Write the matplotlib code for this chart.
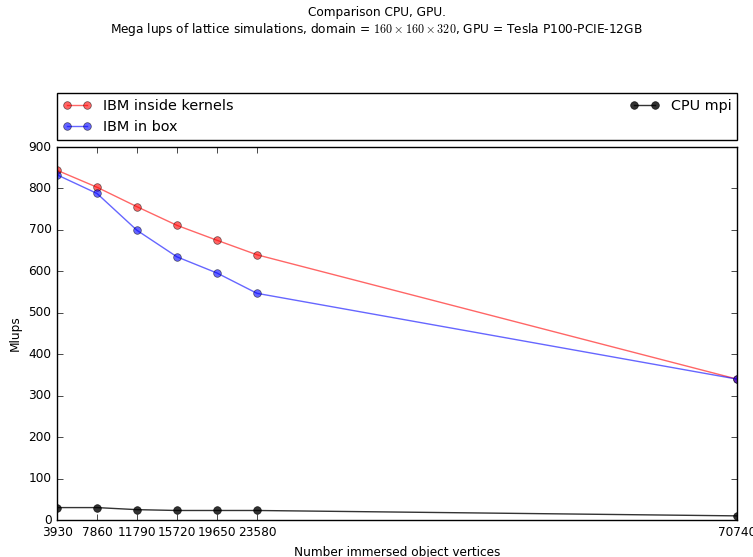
import matplotlib
matplotlib.use("Agg")
import matplotlib.pyplot as plt

plt.style.use("classic")
plt.rcParams["font.size"] = 8.7
plt.rcParams["mathtext.fontset"] = "cm"

# number of immersed vertices
vertices = [3930, 7860, 11790, 15720, 19650, 23580, 70740]
# Mlups per version
ibm_kernels = [844, 803, 756, 711, 675, 640, 340]
ibm_box = [833, 788, 699, 635, 596, 547, 340]
cpu_mpi = [30, 30, 25, 23, 23, 23, 10]

fig = plt.figure(figsize=(7.53, 5.57), dpi=100, facecolor="white")
ax = fig.add_axes([0.0757, 0.0664, 0.9031, 0.6696])

ax.plot(vertices, ibm_kernels, "ro-", alpha=0.6, markersize=5.5, markeredgecolor="k", markeredgewidth=0.5, label="IBM inside kernels")
ax.plot(vertices, ibm_box, "bo-", alpha=0.6, markersize=5.5, markeredgecolor="k", markeredgewidth=0.5, label="IBM in box")
ax.plot(vertices, cpu_mpi, "ko-", alpha=0.8, markersize=5.5, label="CPU mpi")

ax.set_xticks(vertices)
ax.set_xticklabels([str(v) for v in vertices])
ax.set_xlim(vertices[0], vertices[-1])
ax.set_ylim(0, 900)
ax.set_xlabel("Number immersed object vertices")
ax.set_ylabel("Mlups")

ax.legend(bbox_to_anchor=(0., 1.019, 1., .123), loc=3, ncol=2, mode="expand",
          borderaxespad=0., fontsize=10.4, numpoints=2)

fig.text(0.5, 0.978, "Comparison CPU, GPU.", ha="center", va="center", fontsize=8.7)
fig.text(0.5, 0.947, r"Mega lups of lattice simulations, domain = $160 \times 160 \times 320$, GPU = Tesla P100-PCIE-12GB",
         ha="center", va="center", fontsize=8.7)

fig.savefig("out.png", dpi=100, facecolor="white")
